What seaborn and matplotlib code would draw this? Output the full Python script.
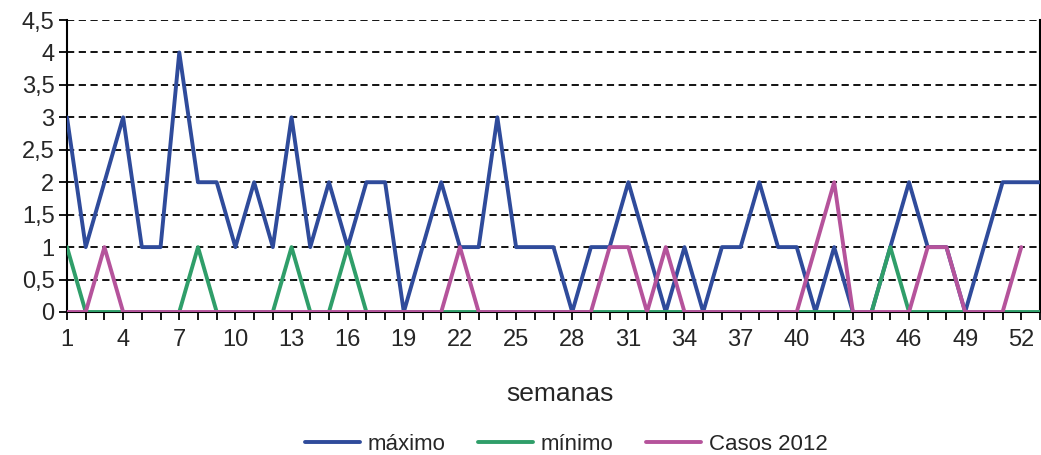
import matplotlib
matplotlib.use('Agg')
import matplotlib.pyplot as plt
import seaborn as sns
import pandas as pd
import numpy as np

# weekly values
semanas = list(range(1, 54))
maximo = [3, 1, 2, 3, 1, 1, 4, 2, 2, 1, 2, 1, 3, 1, 2, 1, 2, 2, 0, 1,
          2, 1, 1, 3, 1, 1, 1, 0, 1, 1, 2, 1, 0, 1, 0, 1, 1, 2, 1, 1,
          0, 1, 0, 0, 1, 2, 1, 1, 0, 1, 2, 2, 2]
minimo = [1, 0, 0, 0, 0, 0, 0, 1, 0, 0, 0, 0, 1, 0, 0, 1, 0, 0, 0, 0,
          0, 0, 0, 0, 0, 0, 0, 0, 0, 0, 0, 0, 0, 0, 0, 0, 0, 0, 0, 0,
          0, 0, 0, 0, 1, 0, 0, 0, 0, 0, 0, 0, 0]
casos_2012 = [0, 0, 1, 0, 0, 0, 0, 0, 0, 0, 0, 0, 0, 0, 0, 0, 0, 0, 0, 0,
              0, 1, 0, 0, 0, 0, 0, 0, 0, 1, 1, 0, 1, 0, 0, 0, 0, 0, 0, 0,
              1, 2, 0, 0, 0, 0, 1, 1, 0, 0, 0, 1, np.nan]

series = {'máximo': maximo, 'mínimo': minimo, 'Casos 2012': casos_2012}
colores = {'máximo': '#2F4B9B', 'mínimo': '#2F9E69', 'Casos 2012': '#B5539B'}

df = pd.DataFrame({'semana': semanas, **series}).melt(
    id_vars='semana', var_name='serie', value_name='valor')

sns.set_style('white')
plt.rcParams['font.family'] = ['Liberation Sans', 'DejaVu Sans']

fig = plt.figure(figsize=(10.41, 4.55), dpi=100)
ax = fig.add_axes([67 / 1041, 1 - 312 / 455, (1040 - 67) / 1041, 292 / 455])

# dashed grid first so lines sit on top
for yv in np.arange(0.5, 4.51, 0.5):
    ax.axhline(yv, color='black', lw=1.3, ls=(0, (4, 2.5)), zorder=1)

sns.lineplot(data=df, x='semana', y='valor', hue='serie', palette=colores,
             hue_order=list(series.keys()), lw=2.8, ax=ax, zorder=3,
             legend=True)

ax.set_xlim(1, 53)
ax.set_ylim(0, 4.5)
ax.set_yticks(np.arange(0, 4.51, 0.5))
ax.set_yticklabels([f'{v:g}'.replace('.', ',') for v in np.arange(0, 4.51, 0.5)])
ax.set_xticks(semanas, minor=True)
ax.set_xticks(list(range(1, 53, 3)))
ax.tick_params(axis='both', which='major', labelsize=17, length=6,
               width=1.3, direction='out', color='black', pad=3)
ax.tick_params(axis='x', which='minor', length=6, width=1.3,
               direction='out', color='black', bottom=True)
ax.tick_params(axis='x', which='major', bottom=True, pad=6)
ax.tick_params(axis='y', left=True)

ax.spines['top'].set_visible(False)
for s in ['left', 'bottom', 'right']:
    ax.spines[s].set_color('black')
    ax.spines[s].set_linewidth(1.5)

ax.set_xlabel('semanas', fontsize=19)
ax.xaxis.set_label_coords(0.507, -0.24)
ax.set_ylabel('')

ax.get_legend().remove()
h, l = ax.get_legend_handles_labels()
fig.legend(h, l, loc='center', bbox_to_anchor=(0.544, 0.024), ncol=3,
           frameon=False, fontsize=16, handlelength=2.48, columnspacing=1.45,
           handletextpad=0.36, borderaxespad=0, borderpad=0)

fig.savefig('out.png', dpi=100)
